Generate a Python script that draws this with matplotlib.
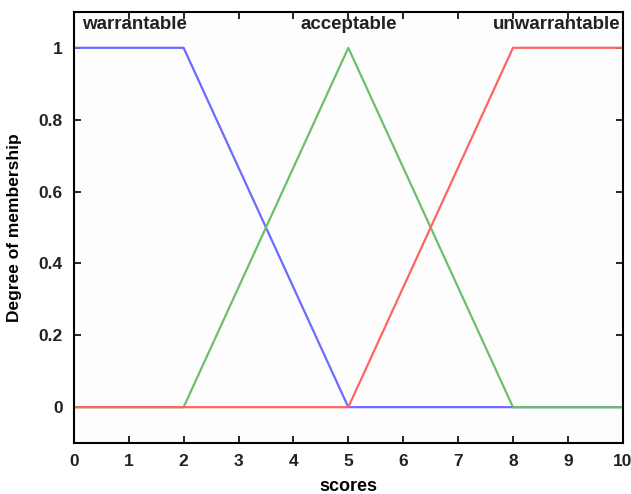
import numpy as np
import matplotlib.pyplot as plt

# Membership function breakpoints (scores vs degree)
warr_x = [0, 2, 5, 10]
warr_y = [1, 1, 0, 0]
acc_x = [0, 2, 5, 8, 10]
acc_y = [0, 0, 1, 0, 0]
unwarr_x = [0, 5, 8, 10]
unwarr_y = [0, 0, 1, 1]

labels = ["warrantable", "acceptable", "unwarrantable"]
xticks = np.arange(0, 11)
yticks = [0, 0.2, 0.4, 0.6, 0.8, 1]

plt.rcParams['font.family'] = ['Liberation Sans', 'DejaVu Sans']

fig = plt.figure(figsize=(6.31, 4.94), dpi=100)
ax = fig.add_axes([0.117, 0.103, 0.870, 0.873])
ax.set_facecolor('#fdfdfd')

ax.plot(warr_x, warr_y, color='#6b6bff', lw=1.6)
ax.plot(acc_x, acc_y, color='#6cbf6c', lw=1.6)
ax.plot(unwarr_x, unwarr_y, color='#ff6464', lw=1.6)

ax.set_xlim(0, 10)
ax.set_ylim(-0.1, 1.1)
ax.set_xticks(xticks)
ax.set_yticks(yticks)
ax.set_yticklabels(["0", "0.2", "0.4", "0.6", "0.8", "1"])
ax.tick_params(direction='in', top=True, right=True, length=5, width=1.2,
               labelsize=12.5, pad=8)
for lab in ax.get_xticklabels() + ax.get_yticklabels():
    lab.set_fontweight('bold')
    lab.set_color('#222222')
for sp in ax.spines.values():
    sp.set_linewidth(1.5)

ax.text(0.15, 1.04, labels[0], ha='left', va='bottom', fontsize=13.5,
        fontweight='bold', color='#222222')
ax.text(5, 1.04, labels[1], ha='center', va='bottom', fontsize=13.5,
        fontweight='bold', color='#222222')
ax.text(9.95, 1.04, labels[2], ha='right', va='bottom', fontsize=13.5,
        fontweight='bold', color='#222222')

ax.set_xlabel("scores", fontsize=13, fontweight='bold', labelpad=6)
ax.set_ylabel("Degree of membership", fontsize=12.5, fontweight='bold', labelpad=12)

fig.savefig("out.png", dpi=100)
